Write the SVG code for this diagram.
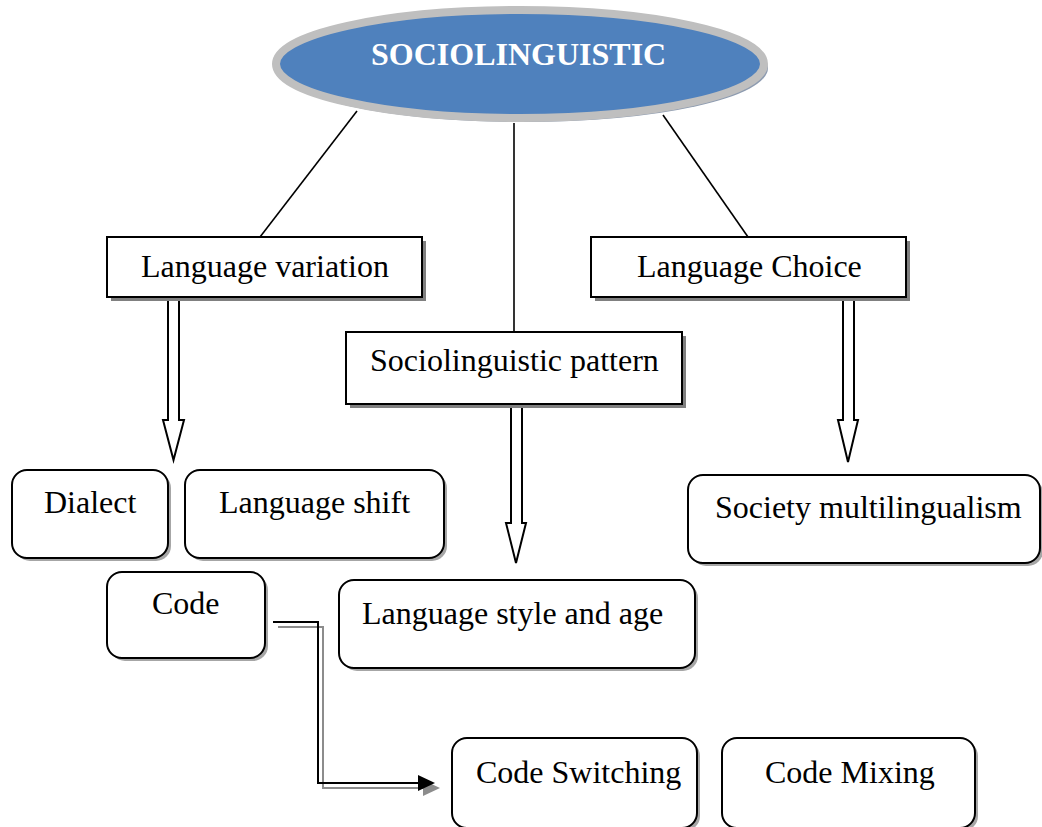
<svg xmlns="http://www.w3.org/2000/svg" width="1042" height="827" viewBox="0 0 1042 827">
<style>
.t{font-family:"Liberation Serif","Times New Roman",serif;font-size:32px;fill:#000}
.h{font-family:"Liberation Serif","Times New Roman",serif;font-size:32px;font-weight:bold;fill:#fff}
.box{fill:#fff;stroke:#000;stroke-width:2}
.sh{fill:#808080}
.rsh{fill:#a6a6a6}
.ln{stroke:#000;stroke-width:1.6;fill:none}
.blk{fill:#fff;stroke:#000;stroke-width:2;stroke-linejoin:miter}
</style>
<rect width="1042" height="827" fill="#fff"/>
<g id="connectors">
<line class="ln" x1="357" y1="111" x2="260" y2="237"/>
<line class="ln" x1="514" y1="123" x2="514" y2="332"/>
<line class="ln" x1="663" y1="115" x2="748" y2="237"/>
<path class="blk" d="M168,298 H179 V420 H184 L173.5,460 L163,420 H168 Z"/>
<path class="blk" d="M511,407 H522 V523 H526 L516,563 L506,523 H511 Z"/>
<path class="blk" d="M843,300 H854 V420 H858 L848,462 L838,420 H843 Z"/>
<polyline points="278,627 323,627 323,788 426,788" fill="none" stroke="#8c8c8c" stroke-width="2"/>
<polygon points="423,780 440,788 423,796" fill="#8c8c8c"/>
<polyline points="273,622 318,622 318,783 421,783" fill="none" stroke="#000" stroke-width="2"/>
<polygon points="418,775 435,783 418,791" fill="#000"/>
</g>
<g id="root">
<ellipse cx="523" cy="68" rx="245" ry="54" fill="#8d9bb0"/>
<ellipse cx="520" cy="64" rx="244" ry="54" fill="#4f81bd" stroke="#bfbfbf" stroke-width="8"/>
<text class="h" x="371" y="65">SOCIOLINGUISTIC</text>
</g>
<g id="lang-variation">
<rect class="sh" x="111" y="241" width="315" height="60"/>
<rect class="box" x="107" y="237" width="315" height="60"/>
<text class="t" x="141" y="277">Language variation</text>
</g>
<g id="lang-choice">
<rect class="sh" x="595" y="241" width="315" height="60"/>
<rect class="box" x="591" y="237" width="315" height="60"/>
<text class="t" x="637" y="277">Language Choice</text>
</g>
<g id="socio-pattern">
<rect class="sh" x="350" y="336" width="336" height="72"/>
<rect class="box" x="346" y="332" width="336" height="72"/>
<text class="t" x="370" y="371">Sociolinguistic pattern</text>
</g>
<g id="dialect">
<rect class="rsh" x="15" y="473" width="156" height="88" rx="15"/>
<rect class="box" x="12" y="470" width="156" height="88" rx="15"/>
<text class="t" x="44" y="513">Dialect</text>
</g>
<g id="lang-shift">
<rect class="rsh" x="188" y="473" width="259" height="88" rx="15"/>
<rect class="box" x="185" y="470" width="259" height="88" rx="15"/>
<text class="t" x="219" y="513">Language shift</text>
</g>
<g id="code">
<rect class="rsh" x="110" y="575" width="158" height="86" rx="15"/>
<rect class="box" x="107" y="572" width="158" height="86" rx="15"/>
<text class="t" x="152" y="614">Code</text>
</g>
<g id="style-age">
<rect class="rsh" x="342" y="583" width="356" height="88" rx="15"/>
<rect class="box" x="339" y="580" width="356" height="88" rx="15"/>
<text class="t" x="362" y="624">Language style and age</text>
</g>
<g id="society-multi">
<rect class="rsh" x="691" y="478" width="352" height="88" rx="15"/>
<rect class="box" x="688" y="475" width="352" height="88" rx="15"/>
<text class="t" x="715" y="518">Society multilingualism</text>
</g>
<g id="code-switching">
<rect class="rsh" x="455" y="741" width="245" height="90" rx="15"/>
<rect class="box" x="452" y="738" width="245" height="90" rx="15"/>
<text class="t" x="476" y="783">Code Switching</text>
</g>
<g id="code-mixing">
<rect class="rsh" x="725" y="741" width="253" height="90" rx="15"/>
<rect class="box" x="722" y="738" width="253" height="90" rx="15"/>
<text class="t" x="765" y="783">Code Mixing</text>
</g>
</svg>
